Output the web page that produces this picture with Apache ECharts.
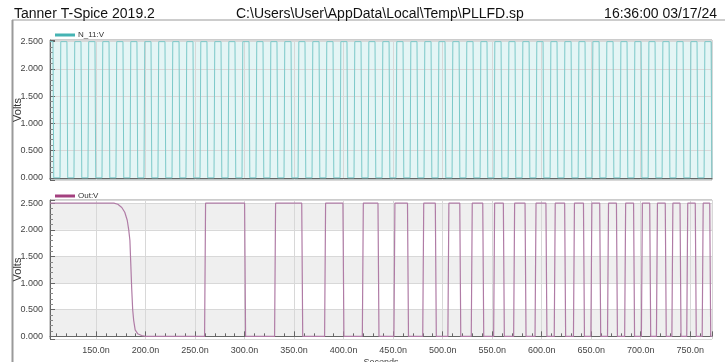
<!DOCTYPE html>
<html>
<head>
<meta charset="utf-8">
<script src="https://cdn.jsdelivr.net/npm/echarts@6/dist/echarts.min.js"></script>
<style>
  html, body { margin: 0; padding: 0; background: #fff; }
  #chart { width: 725px; height: 362px; }
</style>
</head>
<body>
<div id="chart"></div>
<script>
// time window shown (ns)
const tMin = 103.5;
const tMax = 772;

// N_11:V toggle times (ns)
const n11Edges = [
  106.9, 114.0, 121.0, 128.1, 135.2, 142.2, 149.3, 156.4, 163.5, 170.5,
  177.6, 184.7, 191.7, 198.8, 205.9, 212.9, 220.0, 227.1, 234.2, 241.2,
  248.3, 255.4, 262.4, 269.5, 276.6, 283.7, 290.7, 297.8, 304.9, 311.9,
  319.0, 326.1, 333.1, 340.2, 347.3, 354.4, 361.4, 368.5, 375.6, 382.6,
  389.7, 396.8, 403.8, 410.9, 418.0, 425.1, 432.1, 439.2, 446.3, 453.3,
  460.4, 467.5, 474.5, 481.6, 488.7, 495.8, 502.8, 509.9, 517.0, 524.0,
  531.1, 538.2, 545.2, 552.3, 559.4, 566.5, 573.5, 580.6, 587.7, 594.7,
  601.8, 608.9, 615.9, 623.0, 630.1, 637.2, 644.2, 651.3, 658.4, 665.4,
  672.5, 679.6, 686.6, 693.7, 700.8, 707.9, 714.9, 722.0, 729.1, 736.1,
  743.2, 750.3, 757.3, 764.4, 771.5
];

// Out:V initial discharge (ns, V)
const outDecay = [
  [103.5, 2.5], [168, 2.5], [172, 2.48], [176, 2.42], [179, 2.33],
  [181.5, 2.18], [183, 2.0], [184.2, 1.8], [185, 1.4], [186, 0.9],
  [187, 0.5], [188, 0.3], [189.5, 0.12], [192, 0.05], [196, 0.015], [200, 0]
];
// Out:V pulse edges (ns)
const outRise = [260.1, 330.8, 381.3, 419.4, 451.3, 480.4, 505.8, 529.4, 552.0, 572.2,
  593.8, 613.2, 632.6, 650.2, 667.0, 684.3, 701.2, 716.4, 732.0, 747.0, 762.6];
const outFall = [300.5, 358.2, 399.8, 435.2, 465.0, 493.1, 517.8, 541.0, 561.8, 583.7,
  604.8, 623.7, 642.7, 659.1, 676.0, 693.3, 709.6, 725.3, 740.2, 755.6, 770.2];

const vHigh = 2.5;
const vLow = 0;

// clock trace
const n11Data = [[tMin, vHigh]];
let lvl = vHigh;
n11Edges.forEach(t => {
  n11Data.push([t - 0.4, lvl]);
  lvl = lvl === vHigh ? vLow : vHigh;
  n11Data.push([t + 0.4, lvl]);
});
n11Data.push([tMax, lvl]);

// output trace
const outData = outDecay.slice();
outRise.forEach((r, i) => {
  outData.push([r - 0.5, vLow], [r + 0.5, vHigh]);
  const f = outFall[i];
  outData.push([f - 0.5, vHigh], [f + 0.5, vLow]);
});
outData.push([tMax, vLow]);

const font = 'Liberation Sans, Arial, sans-serif';
const axisGrey = '#666';

function xAxisCfg(idx, labels) {
  return {
    type: 'value', gridIndex: idx, min: tMin, max: tMax, splitNumber: 13,
    axisLine: { lineStyle: { color: axisGrey } },
    axisTick: { show: labels, inside: true, length: 5, lineStyle: { color: axisGrey } },
    minorTick: { show: labels, splitNumber: 5, length: 3, lineStyle: { color: axisGrey } },
    splitLine: { show: true, lineStyle: { color: '#d8d8d8' } },
    axisLabel: {
      show: labels, showMinLabel: false, showMaxLabel: false,
      fontFamily: font, fontSize: 9, color: '#444', margin: 7,
      formatter: v => v.toFixed(1) + 'n'
    },
    name: labels ? 'Seconds' : '', nameLocation: 'middle', nameGap: 19,
    nameMoveOverlap: false,
    nameTextStyle: { fontFamily: font, fontSize: 9, color: '#444' }
  };
}

function yAxisCfg(idx, min, max, bands) {
  return {
    type: 'value', gridIndex: idx, min: min, max: max, splitNumber: 5,
    axisLine: { show: true, lineStyle: { color: axisGrey } },
    axisTick: { show: true, inside: true, length: 5, lineStyle: { color: axisGrey } },
    minorTick: { show: true, splitNumber: 5, length: 3, lineStyle: { color: '#888' } },
    splitLine: { show: true, lineStyle: { color: '#d8d8d8' } },
    splitArea: { show: bands, areaStyle: { color: ['#ffffff', '#efefef'] } },
    axisLabel: {
      showMinLabel: false, showMaxLabel: false,
      fontFamily: font, fontSize: 9, color: '#444', margin: 7,
      formatter: v => v.toFixed(3)
    },
    name: 'Volts', nameLocation: 'middle', nameGap: 27, nameRotate: 90,
    nameMoveOverlap: false,
    nameTextStyle: { fontFamily: font, fontSize: 11, color: '#333' }
  };
}

const chart = echarts.init(document.getElementById('chart'), null, { renderer: 'canvas' });
chart.setOption({
  animation: false,
  backgroundColor: '#ffffff',
  title: [
    { text: 'Tanner T-Spice 2019.2', left: 9, top: 2,
      textStyle: { fontFamily: font, fontSize: 14, fontWeight: 'normal', color: '#111' } },
    { text: 'C:\\Users\\User\\AppData\\Local\\Temp\\PLLFD.sp', left: 231, top: 2,
      textStyle: { fontFamily: font, fontSize: 14, fontWeight: 'normal', color: '#111' } },
    { text: '16:36:00 03/17/24', right: 3, top: 2,
      textStyle: { fontFamily: font, fontSize: 14, fontWeight: 'normal', color: '#111' } }
  ],
  legend: [
    { data: [{ name: 'N_11:V', itemStyle: { color: '#45b3b3' } }], left: 50, top: 26,
      icon: 'rect', itemWidth: 20, itemHeight: 3, itemGap: 4,
      textStyle: { fontFamily: font, fontSize: 8, color: '#333', padding: [0, 0, 0, -2] } },
    { data: [{ name: 'Out:V', itemStyle: { color: '#a3407f' } }], left: 50, top: 187,
      icon: 'rect', itemWidth: 20, itemHeight: 3, itemGap: 4,
      textStyle: { fontFamily: font, fontSize: 8, color: '#333', padding: [0, 0, 0, -2] } }
  ],
  grid: [
    { left: 50, right: 13, top: 40, height: 140, show: true, outerBoundsMode: 'none',
      backgroundColor: '#e4f5f5', borderColor: '#999', borderWidth: 1 },
    { left: 50, right: 13, top: 200, height: 139, show: true, outerBoundsMode: 'none',
      backgroundColor: 'transparent', borderColor: '#999', borderWidth: 1 }
  ],
  xAxis: [xAxisCfg(0, false), xAxisCfg(1, true)],
  yAxis: [yAxisCfg(0, -0.04, 2.53, false), yAxisCfg(1, -0.05, 2.56, true)],
  series: [
    { name: 'N_11:V', type: 'line', xAxisIndex: 0, yAxisIndex: 0, data: n11Data,
      showSymbol: false, lineStyle: { color: '#7cc9c9', width: 1 }, itemStyle: { color: '#45b3b3' } },
    { name: 'Out:V', type: 'line', xAxisIndex: 1, yAxisIndex: 1, data: outData,
      showSymbol: false, lineStyle: { color: '#b07ca6', width: 1.2 }, itemStyle: { color: '#a3407f' } }
  ],
  graphic: [
    { type: 'line', shape: { x1: 12, y1: 20, x2: 725, y2: 20 }, style: { stroke: '#9a9a9a', lineWidth: 1 } },
    { type: 'line', shape: { x1: 12.5, y1: 20, x2: 12.5, y2: 362 }, style: { stroke: '#9a9a9a', lineWidth: 2 } }
  ]
});
</script>
</body>
</html>
